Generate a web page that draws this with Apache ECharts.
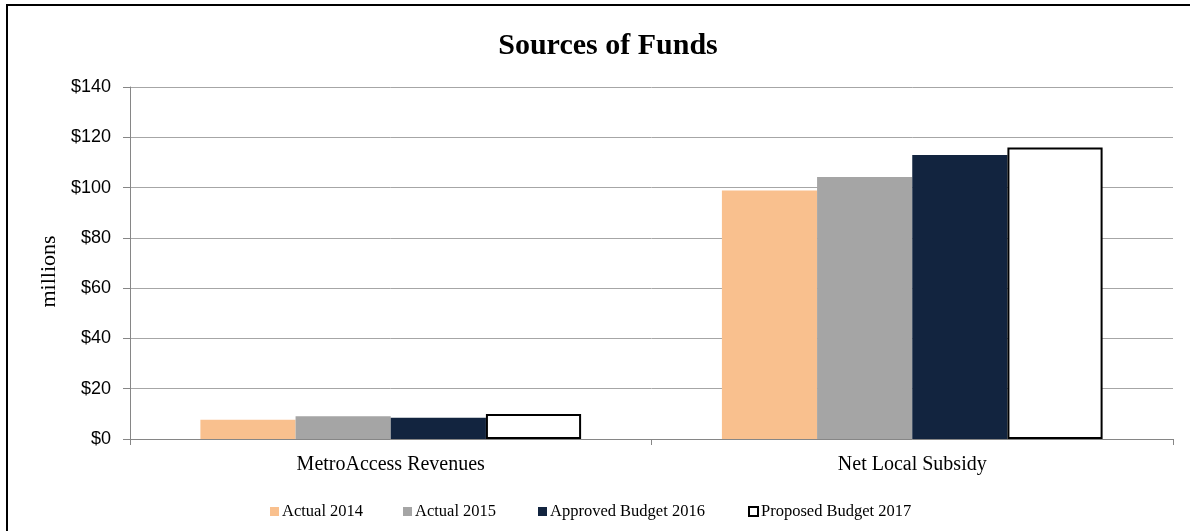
<!DOCTYPE html>
<html>
<head>
<meta charset="utf-8">
<script src="https://cdn.jsdelivr.net/npm/echarts@6/dist/echarts.min.js"></script>
<style>
  html, body { margin: 0; padding: 0; background: #fff; }
  #chart { width: 1190px; height: 531px; }
</style>
</head>
<body>
<div id="chart"></div>
<script>
  // categories and values (millions)
  var categories = ['MetroAccess Revenues', 'Net Local Subsidy'];
  var seriesNames = ['Actual 2014', 'Actual 2015', 'Approved Budget 2016', 'Proposed Budget 2017'];
  var actual2014 = [7.7, 98.8];
  var actual2015 = [9.0, 104.2];
  var approved2016 = [8.5, 113.0];
  var proposed2017 = [9.9, 115.9];
  var yTicks = [0, 20, 40, 60, 80, 100, 120, 140];

  var serif = '"Liberation Serif", "Times New Roman", serif';
  var chart = echarts.init(document.getElementById('chart'));

  // one legend per item so each sits where the original put it
  var legendLeft = [265, 398, 533, 743];
  var legends = seriesNames.map(function (name, i) {
    return {
      left: legendLeft[i],
      top: 498,
      itemWidth: 9,
      itemHeight: 9,
      icon: 'rect',
      textStyle: { fontFamily: serif, fontSize: 16.5, color: '#000', padding: [0, 0, 0, -2] },
      data: [name]
    };
  });

  var option = {
    animation: false,
    title: {
      text: 'Sources of Funds',
      left: 603,
      textAlign: 'center',
      top: 26,
      textStyle: { fontFamily: serif, fontWeight: 'bold', fontSize: 30, color: '#000' }
    },
    legend: legends,
    grid: { left: 130, right: 17, top: 87, bottom: 92, containLabel: false },
    xAxis: {
      type: 'category',
      data: categories,
      axisLine: { lineStyle: { color: '#868686' } },
      axisTick: { show: true, length: 6, lineStyle: { color: '#868686' } },
      axisLabel: { fontFamily: serif, fontSize: 20, color: '#000', margin: 16 }
    },
    yAxis: {
      type: 'value',
      min: 0,
      max: yTicks[yTicks.length - 1],
      interval: 20,
      name: 'millions',
      nameLocation: 'middle',
      nameGap: 60,
      nameTextStyle: { fontFamily: serif, fontSize: 22, color: '#000', padding: [0, 17, 0, 0] },
      axisLine: { show: true, lineStyle: { color: '#868686' } },
      axisTick: { show: true, length: 7, lineStyle: { color: '#868686' } },
      axisLabel: {
        fontFamily: '"Liberation Sans", Arial, sans-serif', fontSize: 18, color: '#000', margin: 19,
        formatter: function (v) { return '$' + v; }
      },
      splitLine: { lineStyle: { color: '#a6a6a6' } }
    },
    series: [
      { name: seriesNames[0], type: 'bar', data: actual2014, barGap: '0%', barCategoryGap: '27%',
        itemStyle: { color: '#f9c08e' } },
      { name: seriesNames[1], type: 'bar', data: actual2015,
        itemStyle: { color: '#a5a5a5' } },
      { name: seriesNames[2], type: 'bar', data: approved2016,
        itemStyle: { color: '#12243f' } },
      { name: seriesNames[3], type: 'bar', data: proposed2017,
        itemStyle: { color: '#ffffff', borderColor: '#000', borderWidth: 2 } }
    ],
    graphic: [{
      type: 'rect',
      shape: { x: 7, y: 5, width: 1200, height: 540 },
      style: { fill: null, stroke: '#000', lineWidth: 2 },
      silent: true
    }]
  };
  chart.setOption(option);
</script>
</body>
</html>
